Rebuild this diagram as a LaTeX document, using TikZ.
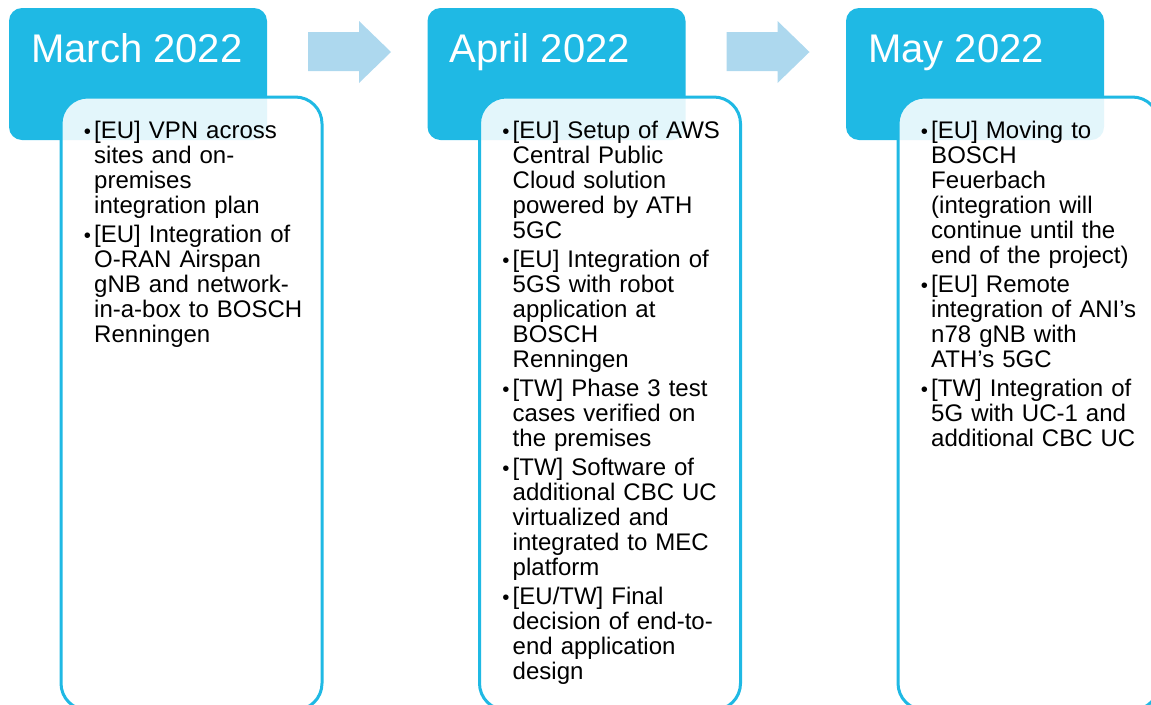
\documentclass[tikz,border=0pt]{standalone}
\usepackage{fontspec}
\setmainfont{Liberation Sans}
\usepackage{xcolor}

\definecolor{headcyan}{RGB}{31,185,228}
\definecolor{arrowblue}{RGB}{173,216,238}

\newenvironment{steplist}{\begin{list}{\scalebox{0.85}{\textbullet}}{%
    \setlength{\leftmargin}{8pt}\setlength{\labelwidth}{5.5pt}%
    \setlength{\labelsep}{2.5pt}\setlength{\topsep}{0pt}%
    \setlength{\partopsep}{0pt}\setlength{\parsep}{0pt}%
    \setlength{\itemsep}{3pt}}}{\end{list}}

\begin{document}
\begin{tikzpicture}[
    x=0.75pt, y=-0.75pt,
    headbox/.style={fill=headcyan, rounded corners=9.75pt},
    itembox/.style={draw=headcyan, line width=2.25pt, fill=white, fill opacity=0.88, rounded corners=20pt},
    monthlabel/.style={anchor=base west, text=white, inner sep=0pt, font=\fontsize{30}{36}\selectfont},
    itemtext/.style={anchor=north west, inner sep=0pt, text width=175pt, align=left, font=\fontsize{18}{18.75}\selectfont}
]
    % Page size of the slide
    \useasboundingbox (0,0) rectangle (1151,704);
    \clip (0,0) rectangle (1151,704);

    % Header boxes and the item frames on top of them
    \foreach \i/\month in {0/March,1/April,2/May} {
        \pgfmathsetmacro{\dx}{418.5*\i}
        \fill[headbox] (9+\dx,8) rectangle (267+\dx,140);
        \node[monthlabel] (head\i) at (31+\dx,62) {\month\ 2022};
        \draw[itembox] (61+\dx,97) rectangle (322+\dx,710);
    }

    % Block arrows between the months
    \foreach \i in {0,1} {
        \pgfmathsetmacro{\dx}{418.5*\i}
        \fill[arrowblue] (308+\dx,32) -- (359+\dx,32) -- (359+\dx,21) -- (391+\dx,52)
            -- (359+\dx,83) -- (359+\dx,71) -- (308+\dx,71) -- cycle;
    }

    % Items of each month
    \node[itemtext] (march) at (83.3,113) {\begin{steplist}
        \item {[EU]} VPN across\\ sites and on-\\ premises\\ integration plan
        \item {[EU]} Integration of\\ O-RAN Airspan\\ gNB and network-\\ in-a-box to BOSCH\\ Renningen
    \end{steplist}};

    \node[itemtext] (april) at (501.8,113) {\begin{steplist}
        \item {[EU]} Setup of AWS\\ Central Public\\ Cloud solution\\ powered by ATH\\ 5GC
        \item {[EU]} Integration of\\ 5GS with robot\\ application at\\ BOSCH\\ Renningen
        \item {[TW]} Phase 3 test\\ cases verified on\\ the premises
        \item {[TW]} Software of\\ additional CBC UC\\ virtualized and\\ integrated to MEC\\ platform
        \item {[EU/TW]} Final\\ decision of end-to-\\ end application\\ design
    \end{steplist}};

    \node[itemtext] (may) at (920.3,113) {\begin{steplist}
        \item {[EU]} Moving to\\ BOSCH\\ Feuerbach\\ (integration will\\ continue until the\\ end of the project)
        \item {[EU]} Remote\\ integration of ANI’s\\ n78 gNB with\\ ATH’s 5GC
        \item {[TW]} Integration of\\ 5G with UC-1 and\\ additional CBC UC
    \end{steplist}};
\end{tikzpicture}
\end{document}
